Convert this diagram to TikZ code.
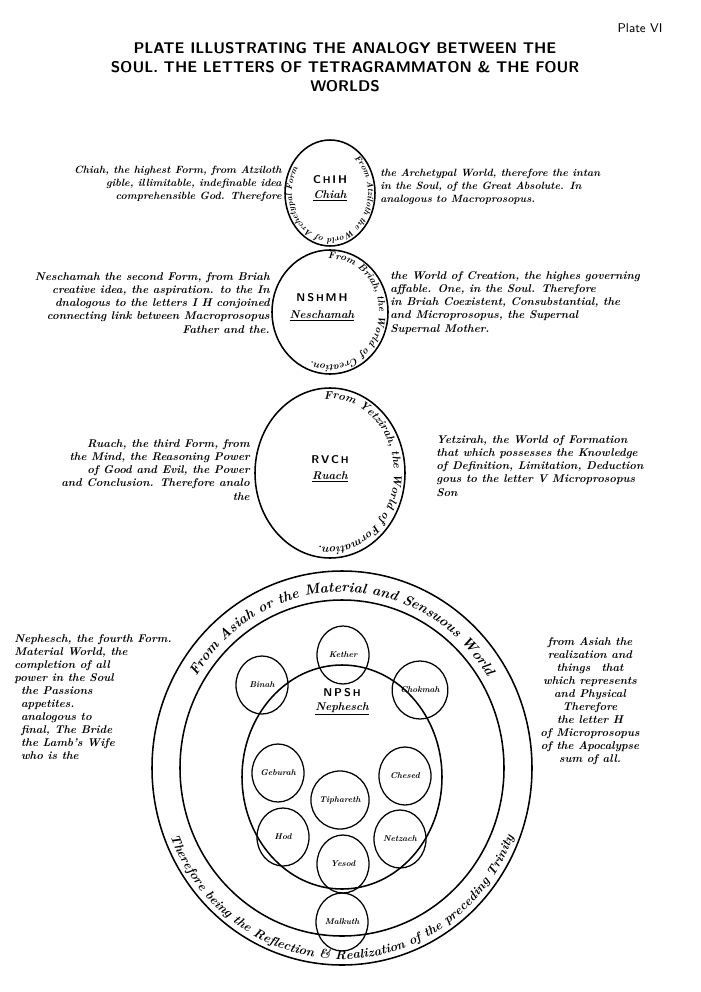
\documentclass[tikz,border=0pt]{standalone}
\usetikzlibrary{shapes.geometric,decorations.text,calc}
\tikzset{
  side/.style={font=\fontsize{8}{9.3}\selectfont\bfseries\itshape, inner sep=0pt},
  sefira/.style={draw, line width=0.9pt, ellipse, minimum width=1.3cm, minimum height=1.45cm, inner sep=0pt, font=\fontsize{6}{7}\selectfont\bfseries\itshape},
  ring/.style={line width=1.1pt},
  letters/.style={font=\sffamily\bfseries\fontsize{8}{9}\selectfont},
}
\begin{document}
\begin{tikzpicture}[x=0.025cm, y=-0.025cm]
  \useasboundingbox (0,0) rectangle (700,992);

  % title
  \node[font=\sffamily\fontsize{9}{10}\selectfont] (plate) at (640,28) {Plate VI};
  \node[font=\sffamily\bfseries\fontsize{11}{13.4}\selectfont, align=center] (title) at (345,67)
    {PLATE ILLUSTRATING THE ANALOGY BETWEEN THE\\SOUL. THE LETTERS OF TETRAGRAMMATON \& THE FOUR\\WORLDS};

  \coordinate (chiah) at (330,193);
  \coordinate (nesch) at (330,312);
  \coordinate (ruach) at (330,473);
  \coordinate (neph) at (342,768);

  % words round the circles (y upwards here)
  \begin{scope}[y=0.025cm]
  \path[decorate, decoration={text along path, text align=center,
      text={|\fontsize{6}{7}\selectfont\bfseries\itshape|From Atziloth the World of Archetypal Form}}]
    ($(chiah)+({38*cos(95)},{45*sin(95)})$) arc[start angle=95, end angle=-255, x radius=38, y radius=45];
  \path[decorate, decoration={text along path, text align=center,
      text={|\fontsize{7}{8}\selectfont\bfseries\itshape|From Briah, the World of Creation.}}]
    ($(nesch)+({49*cos(100)},{53*sin(100)})$) arc[start angle=100, end angle=-120, x radius=49, y radius=53];
  \path[decorate, decoration={text along path, text align=center,
      text={|\fontsize{8}{9}\selectfont\bfseries\itshape|From Yetzirah, the World of Formation.}}]
    ($(ruach)+({64*cos(95)},{74*sin(95)})$) arc[start angle=95, end angle=-100, x radius=64, y radius=74];
  \path[decorate, decoration={text along path, text align=center,
      text={|\fontsize{10}{11}\selectfont\bfseries\itshape|From Asiah or the Material and Sensuous World}}]
    ($(neph)+({170*cos(160)},{176*sin(160)})$) arc[start angle=160, end angle=20, x radius=170, y radius=176];
  \path[decorate, decoration={text along path, text align=center,
      text={|\fontsize{9}{10}\selectfont\bfseries\itshape|Therefore being the Reflection {\&} Realization of the preceding Trinity}}]
    ($(neph)+({184*cos(195)},{191*sin(195)})$) arc[start angle=195, end angle=345, x radius=184, y radius=191];
  \end{scope}

  % Chiah
  \draw[ring] (chiah) ellipse[x radius=45, y radius=53];
  \node[letters] (chih) at (330,180) {C\,{\scriptsize H}\,I\,H};
  \node[side] (chiahname) at (330,196) {\underline{Chiah}};
  \node[side, align=right, anchor=east, font=\fontsize{7.5}{9.3}\selectfont\bfseries\itshape] (chiahl) at (282,184)
    {Chiah, the highest Form, from Atziloth\\gible, illimitable, indefinable idea\\comprehensible God. Therefore};
  \node[side, align=left, anchor=west, font=\fontsize{7.5}{9.3}\selectfont\bfseries\itshape] (chiahr) at (380,187)
    {the Archetypal World, therefore the intan\\in the Soul, of the Great Absolute. In\\analogous to Macroprosopus.};

  % Neschamah
  \draw[ring] (nesch) ellipse[x radius=58, y radius=62];
  \node[letters] (nshmh) at (322,298) {N\,S\,{\scriptsize H}\,M\,H};
  \node[side] (neschname) at (322,316) {\underline{Neschamah}};
  \node[side, align=right, anchor=east] (neschl) at (270,303)
    {Neschamah the second Form, from Briah\\creative idea, the aspiration. to the In\\dnalogous to the letters I H conjoined\\connecting link between Macroprosopus\\Father and the.\hspace{1.5em}};
  \node[side, align=left, anchor=west] (neschr) at (390,303)
    {the World of Creation, the highes governing\\affable. One, in the Soul. Therefore\\in Briah Coexistent, Consubstantial, the\\and Microprosopus, the Supernal\\Supernal Mother.};

  % Ruach
  \draw[ring] (ruach) ellipse[x radius=75, y radius=85];
  \node[letters] (rvch) at (330,460) {R\,V\,C\,{\scriptsize H}};
  \node[side] (ruachname) at (330,477) {\underline{Ruach}};
  \node[side, align=right, anchor=east] (ruachl) at (250,470)
    {Ruach, the third Form, from\\the Mind, the Reasoning Power\\of Good and Evil, the Power\\and Conclusion. Therefore analo\\the};
  \node[side, align=left, anchor=west] (ruachr) at (436,466)
    {Yetzirah, the World of Formation\\that which possesses the Knowledge\\of Definition, Limitation, Deduction\\gous to the letter V Microprosopus\\Son};

  % Nephesch
  \draw[ring] (neph) ellipse[x radius=190, y radius=197];
  \draw[ring] (neph) ellipse[x radius=162, y radius=168];
  \draw[ring] (342,777) ellipse[x radius=100, y radius=112];
  \node[letters] (npsh) at (342,693) {N\,P\,S\,{\scriptsize H}};
  \node[side] (nephname) at (342,709) {\underline{Nephesch}};
  \node[sefira] (kether) at (343,655) {Kether};
  \node[sefira] (binah) at (262,685) {Binah};
  \node[sefira] (chokmah) at (420,690) {Chokmah};
  \node[sefira] (geburah) at (278,773) {Geburah};
  \node[sefira] (chesed) at (405,776) {Chesed};
  \node[sefira] (tiphareth) at (340,800) {Tiphareth};
  \node[sefira] (hod) at (283,837) {Hod};
  \node[sefira] (netzach) at (400,839) {Netzach};
  \node[sefira] (yesod) at (343,864) {Yesod};
  \node[sefira] (malkuth) at (342,922) {Malkuth};
  \node[side, align=left, anchor=north west] (nephl) at (14,634)
    {Nephesch, the fourth Form.\\Material World, the\\completion of all\\power in the Soul\\\hspace{0.6em}the Passions\\\hspace{0.6em}appetites.\\\hspace{0.6em}analogous to\\\hspace{0.6em}final, The Bride\\\hspace{0.6em}the Lamb's Wife\\\hspace{0.6em}who is the};
  \node[side, align=center, anchor=north] (nephr) at (590,637)
    {from Asiah the\\realization and\\things\quad that\\which represents\\and Physical\\Therefore\\the letter H\\of Microprosopus\\of the Apocalypse\\sum of all.};
\end{tikzpicture}
\end{document}
